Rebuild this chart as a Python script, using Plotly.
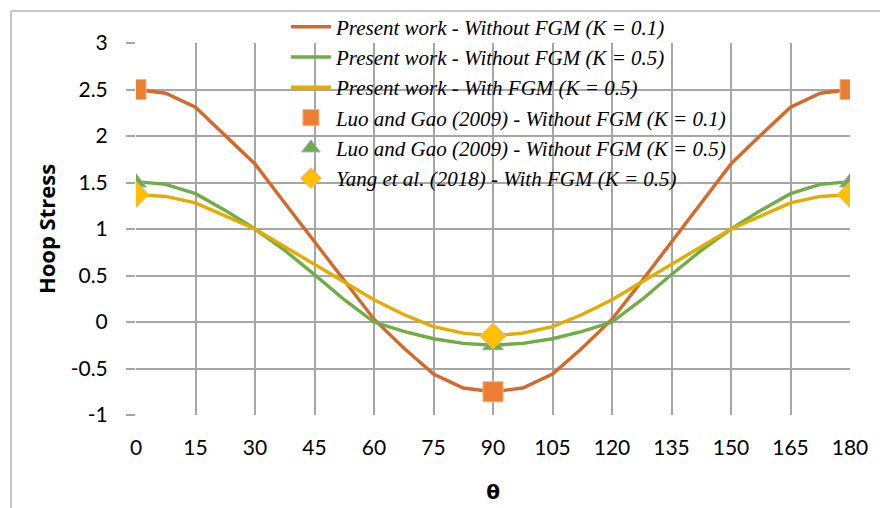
import plotly.graph_objects as go

theta = [0, 7.5, 15, 22.5, 30, 37.5, 45, 52.5, 60, 67.5, 75, 82.5, 90,
         97.5, 105, 112.5, 120, 127.5, 135, 142.5, 150, 157.5, 165, 172.5, 180]

present_k01 = [2.50, 2.46, 2.31, 2.01, 1.70, 1.28, 0.86, 0.44, 0.03, -0.28, -0.56, -0.71, -0.75,
               -0.71, -0.56, -0.28, 0.03, 0.44, 0.86, 1.28, 1.70, 2.01, 2.31, 2.46, 2.50]
present_k05 = [1.51, 1.48, 1.38, 1.20, 1.00, 0.77, 0.51, 0.24, 0.00, -0.10, -0.18, -0.23, -0.25,
               -0.23, -0.18, -0.10, 0.00, 0.24, 0.51, 0.77, 1.00, 1.20, 1.38, 1.48, 1.51]
present_fgm = [1.37, 1.35, 1.28, 1.14, 1.00, 0.81, 0.62, 0.43, 0.24, 0.08, -0.05, -0.12, -0.15,
               -0.12, -0.05, 0.08, 0.24, 0.43, 0.62, 0.81, 1.00, 1.14, 1.28, 1.35, 1.37]

ref_theta = [0, 90, 180]
luo_k01 = [2.5, -0.75, 2.5]
luo_k05 = [1.5, -0.25, 1.5]
yang_fgm = [1.37, -0.15, 1.37]

x_ticks = [0, 15, 30, 45, 60, 75, 90, 105, 120, 135, 150, 165, 180]
y_ticks = [-1, -0.5, 0, 0.5, 1, 1.5, 2, 2.5, 3]
y_tick_text = ["-1", "-0.5", "0", "0.5", "1", "1.5", "2", "2.5", "3"]

names = [
    "Present work - Without FGM (K = 0.1)",
    "Present work - Without FGM (K = 0.5)",
    "Present work - With FGM (K = 0.5)",
    "Luo and Gao (2009) - Without FGM (K = 0.1)",
    "Luo and Gao (2009) - Without FGM (K = 0.5)",
    "Yang et al. (2018) - With FGM (K = 0.5)",
]

fig = go.Figure()
fig.add_trace(go.Scatter(x=theta, y=present_k01, mode="lines", name=names[0], legendgroup="a",
                         line=dict(color="#D4692A", width=3.4)))
fig.add_trace(go.Scatter(x=theta, y=present_k05, mode="lines", name=names[1], legendgroup="b",
                         line=dict(color="#70AD47", width=3.4)))
fig.add_trace(go.Scatter(x=theta, y=present_fgm, mode="lines", name=names[2], legendgroup="c",
                         line=dict(color="#E2AC00", width=3.4)))
fig.add_trace(go.Scatter(x=ref_theta, y=luo_k01, mode="markers", name=names[3], legendgroup="d",
                         marker=dict(symbol="square", size=20, color="#ED7D31",
                                     line=dict(color="#F4B183", width=1))))
fig.add_trace(go.Scatter(x=ref_theta, y=luo_k05, mode="markers", name=names[4], legendgroup="e",
                         marker=dict(symbol="triangle-up", size=18, color="#70AD47",
                                     line=dict(color="#8FAADC", width=1))))
fig.add_trace(go.Scatter(x=ref_theta, y=yang_fgm, mode="markers", name=names[5], legendgroup="f",
                         marker=dict(symbol="diamond", size=20, color="#FFC000",
                                     line=dict(color="#F4B183", width=1))))

grid = "#A6A6A6"
fig.update_layout(
    width=880, height=500,
    paper_bgcolor="white", plot_bgcolor="white",
    margin=dict(l=128, r=38, t=35, b=93, autoexpand=False),
    font=dict(family="Lato", size=21, color="#000000"),
    showlegend=True,
    legend=dict(
        x=0.21, y=1.098, xanchor="left", yanchor="top",
        bgcolor="rgba(0,0,0,0)",
        font=dict(family="Liberation Serif", size=21, style="italic", color="#000000"),
        tracegroupgap=0, traceorder="grouped", itemwidth=40,
    ),
    xaxis=dict(
        range=[0, 180], tickvals=x_ticks, ticktext=[str(v) for v in x_ticks],
        showgrid=True, gridcolor=grid, gridwidth=1.5, zeroline=False, automargin=False,
        showline=False, ticks="outside", ticklen=14, tickcolor="rgba(0,0,0,0)",
        title=dict(text="<b>θ</b>", font=dict(family="DejaVu Sans", size=20), standoff=26),
    ),
    yaxis=dict(
        range=[-1, 3], tickvals=y_ticks, ticktext=y_tick_text,
        showgrid=True, gridcolor=grid, gridwidth=1.5, zeroline=False, automargin=False,
        showline=False, ticks="outside", ticklen=9, tickcolor=grid, tickwidth=1.5,
        ticklabelstandoff=14,
        title=dict(text="<b>Hoop Stress</b>", font=dict(family="Open Sans", size=22), standoff=8),
    ),
    shapes=[
        dict(type="line", xref="paper", yref="paper", x0=-0.175, x1=1.1, y0=1.086, y1=1.086,
             line=dict(color="#B4B4B4", width=1.5)),
        dict(type="line", xref="paper", yref="paper", x0=-0.175, x1=-0.175, y0=1.086, y1=-0.3,
             line=dict(color="#B4B4B4", width=1.5)),
    ],
)

fig.write_html("out.html")
